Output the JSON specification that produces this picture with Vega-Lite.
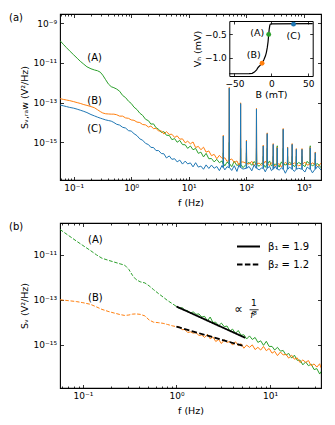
{
"$schema": "https://vega.github.io/schema/vega-lite/v6.json",
"padding": {"left": 8, "top": 12, "right": 10, "bottom": 2},
"bounds": "flush",
"spacing": 43,
"resolve": {"scale": {"strokeDash": "independent", "color": "independent"}, "legend": {"strokeDash": "independent", "color": "independent"}},
"config": {
  "font": "DejaVu Sans",
  "view": {"stroke": "black", "strokeWidth": 1.1},
  "axis": {"domain": false, "grid": false, "tickColor": "black", "tickWidth": 0.8, "labelColor": "black", "titleColor": "black", "labelFont": "DejaVu Sans", "titleFont": "DejaVu Sans", "labelFontSize": 9, "titleFontSize": 9.5, "titleFontWeight": "normal", "labelOverlap": false, "labelFlush": false, "labelBound": false},
  "legend": {"labelFont": "DejaVu Sans", "labelColor": "black"}
},
"datasets": {
  "specA": [
{"f":0.058,"S":1.29e-10,"c":"A"},{"f":0.066,"S":8.51e-11,"c":"A"},{"f":0.075,"S":5.75e-11,"c":"A"},{"f":0.085,"S":3.98e-11,"c":"A"},{"f":0.1,"S":2.51e-11,"c":"A"},{"f":0.115,"S":1.7e-11,"c":"A"},{"f":0.13,"S":1.2e-11,"c":"A"},{"f":0.15,"S":8.51e-12,"c":"A"},{"f":0.17,"S":6.31e-12,"c":"A"},{"f":0.2,"S":5.01e-12,"c":"A"},{"f":0.23,"S":4.37e-12,"c":"A"},{"f":0.26,"S":3.98e-12,"c":"A"},{"f":0.29,"S":3.39e-12,"c":"A"},{"f":0.32,"S":2.4e-12,"c":"A"},{"f":0.36,"S":1.41e-12,"c":"A"},{"f":0.4,"S":8.71e-13,"c":"A"},{"f":0.45,"S":6.31e-13,"c":"A"},{"f":0.5,"S":5.62e-13,"c":"A"},{"f":0.56,"S":4.79e-13,"c":"A"},{"f":0.63,"S":3.72e-13,"c":"A"},{"f":0.71,"S":2.29e-13,"c":"A"},{"f":0.8,"S":1.78e-13,"c":"A"},{"f":0.9,"S":1.17e-13,"c":"A"},{"f":1.0,"S":9.12e-14,"c":"A"},{"f":1.12,"S":5.89e-14,"c":"A"},{"f":1.26,"S":4.47e-14,"c":"A"},{"f":1.41,"S":2.95e-14,"c":"A"},{"f":1.58,"S":2.29e-14,"c":"A"},{"f":1.78,"S":1.45e-14,"c":"A"},{"f":2.0,"S":1.23e-14,"c":"A"},{"f":2.2,"S":8.32e-15,"c":"A"},{"f":2.45,"S":8.51e-15,"c":"A"},{"f":2.7,"S":5.5e-15,"c":"A"},{"f":3.0,"S":4.57e-15,"c":"A"},{"f":3.35,"S":3.16e-15,"c":"A"},{"f":3.7,"S":3.47e-15,"c":"A"},{"f":4.1,"S":2.29e-15,"c":"A"},{"f":4.6,"S":2.24e-15,"c":"A"},{"f":5.1,"S":1.38e-15,"c":"A"},{"f":5.7,"S":1.55e-15,"c":"A"},{"f":6.3,"S":1.02e-15,"c":"A"},{"f":7.0,"S":1.26e-15,"c":"A"},{"f":7.8,"S":7.76e-16,"c":"A"},{"f":8.7,"S":7.59e-16,"c":"A"},{"f":9.6,"S":5.01e-16,"c":"A"},{"f":10.7,"S":6.61e-16,"c":"A"},{"f":11.9,"S":4.27e-16,"c":"A"},{"f":13.2,"S":5.01e-16,"c":"A"},{"f":14.7,"S":2.82e-16,"c":"A"},{"f":16.3,"S":3.24e-16,"c":"A"},{"f":18.1,"S":1.86e-16,"c":"A"},{"f":20.1,"S":2.82e-16,"c":"A"},{"f":22.4,"S":1.51e-16,"c":"A"},{"f":24.9,"S":1.55e-16,"c":"A"},{"f":27.7,"S":1.05e-16,"c":"A"},{"f":30.8,"S":1.41e-16,"c":"A"},{"f":34.2,"S":9.55e-17,"c":"A"},{"f":38,"S":1.17e-16,"c":"A"},{"f":42.5,"S":6.61e-17,"c":"A"},{"f":46.5,"S":1.02e-16,"c":"A"},{"f":56,"S":6.03e-17,"c":"A"},{"f":62,"S":1.12e-16,"c":"A"},{"f":69,"S":6.76e-17,"c":"A"},{"f":75,"S":8.51e-17,"c":"A"},{"f":88,"S":5.37e-17,"c":"A"},{"f":112,"S":1e-16,"c":"A"},{"f":125,"S":7.08e-17,"c":"A"},{"f":138,"S":1.1e-16,"c":"A"},{"f":168,"S":6.31e-17,"c":"A"},{"f":185,"S":8.91e-17,"c":"A"},{"f":215,"S":5.62e-17,"c":"A"},{"f":255,"S":1.17e-16,"c":"A"},{"f":275,"S":6.46e-17,"c":"A"},{"f":320,"S":7.94e-17,"c":"A"},{"f":375,"S":5.75e-17,"c":"A"},{"f":410,"S":1.05e-16,"c":"A"},{"f":480,"S":7.41e-17,"c":"A"},{"f":570,"S":1e-16,"c":"A"},{"f":690,"S":6.03e-17,"c":"A"},{"f":820,"S":9.77e-17,"c":"A"},{"f":1050,"S":6.03e-17,"c":"A"},{"f":1150,"S":1.12e-16,"c":"A"},{"f":1420,"S":6.76e-17,"c":"A"},{"f":1750,"S":8.51e-17,"c":"A"},{"f":2000,"S":5.37e-17,"c":"A"},
{"f":39.6,"S":8.5e-17,"c":"A"},{"f":40,"S":3e-16,"c":"A"},{"f":40.4,"S":8.5e-17,"c":"A"},
{"f":50.3,"S":8.5e-17,"c":"A"},{"f":50.8,"S":1e-15,"c":"A"},{"f":51.3,"S":8.5e-17,"c":"A"},
{"f":79.2,"S":7.9e-17,"c":"A"},{"f":80,"S":5e-16,"c":"A"},{"f":80.8,"S":7.9e-17,"c":"A"},
{"f":100,"S":7.9e-17,"c":"A"},{"f":101,"S":3e-16,"c":"A"},{"f":102,"S":7.9e-17,"c":"A"},
{"f":149.5,"S":7.9e-17,"c":"A"},{"f":151,"S":5e-16,"c":"A"},{"f":152.5,"S":7.9e-17,"c":"A"},
{"f":196,"S":7.9e-17,"c":"A"},{"f":198,"S":2e-16,"c":"A"},{"f":200,"S":7.9e-17,"c":"A"},
{"f":229.7,"S":7.9e-17,"c":"A"},{"f":232,"S":5e-16,"c":"A"},{"f":234.3,"S":7.9e-17,"c":"A"},
{"f":292,"S":7.9e-17,"c":"A"},{"f":295,"S":2e-16,"c":"A"},{"f":298,"S":7.9e-17,"c":"A"},
{"f":343.5,"S":7.9e-17,"c":"A"},{"f":347,"S":6.76e-16,"c":"A"},{"f":350.5,"S":7.9e-17,"c":"A"},
{"f":435.6,"S":7.9e-17,"c":"A"},{"f":440,"S":5e-16,"c":"A"},{"f":444.4,"S":7.9e-17,"c":"A"},
{"f":520,"S":7.9e-17,"c":"A"},{"f":525,"S":2e-16,"c":"A"},{"f":530,"S":7.9e-17,"c":"A"},
{"f":623.7,"S":7.9e-17,"c":"A"},{"f":630,"S":2e-16,"c":"A"},{"f":636.3,"S":7.9e-17,"c":"A"},
{"f":737.5,"S":7.9e-17,"c":"A"},{"f":745,"S":2e-16,"c":"A"},{"f":752.5,"S":7.9e-17,"c":"A"},
{"f":925.7,"S":7.9e-17,"c":"A"},{"f":935,"S":2e-16,"c":"A"},{"f":944.4,"S":7.9e-17,"c":"A"},
{"f":1287,"S":7.9e-17,"c":"A"},{"f":1300,"S":6.76e-16,"c":"A"},{"f":1313,"S":7.9e-17,"c":"A"},
{"f":1574,"S":7.9e-17,"c":"A"},{"f":1590,"S":1.5e-16,"c":"A"},{"f":1606,"S":7.9e-17,"c":"A"},
{"f":0.058,"S":1.58e-13,"c":"B"},{"f":0.066,"S":1.45e-13,"c":"B"},{"f":0.075,"S":1.35e-13,"c":"B"},{"f":0.085,"S":1.26e-13,"c":"B"},{"f":0.1,"S":1.12e-13,"c":"B"},{"f":0.115,"S":1e-13,"c":"B"},{"f":0.13,"S":9.12e-14,"c":"B"},{"f":0.15,"S":7.94e-14,"c":"B"},{"f":0.17,"S":7.24e-14,"c":"B"},{"f":0.2,"S":6.31e-14,"c":"B"},{"f":0.23,"S":5.5e-14,"c":"B"},{"f":0.26,"S":4.37e-14,"c":"B"},{"f":0.29,"S":3.55e-14,"c":"B"},{"f":0.32,"S":3.02e-14,"c":"B"},{"f":0.36,"S":2.75e-14,"c":"B"},{"f":0.4,"S":2.69e-14,"c":"B"},{"f":0.45,"S":2.63e-14,"c":"B"},{"f":0.5,"S":2.63e-14,"c":"B"},{"f":0.56,"S":2.45e-14,"c":"B"},{"f":0.63,"S":2.09e-14,"c":"B"},{"f":0.71,"S":2.09e-14,"c":"B"},{"f":0.8,"S":1.7e-14,"c":"B"},{"f":0.9,"S":1.62e-14,"c":"B"},{"f":1.0,"S":1.35e-14,"c":"B"},{"f":1.12,"S":1.29e-14,"c":"B"},{"f":1.26,"S":1.05e-14,"c":"B"},{"f":1.41,"S":1e-14,"c":"B"},{"f":1.58,"S":7.94e-15,"c":"B"},{"f":1.78,"S":7.59e-15,"c":"B"},{"f":2.0,"S":5.89e-15,"c":"B"},{"f":2.2,"S":6.61e-15,"c":"B"},{"f":2.45,"S":4.9e-15,"c":"B"},{"f":2.7,"S":5.13e-15,"c":"B"},{"f":3.0,"S":3.72e-15,"c":"B"},{"f":3.35,"S":3.8e-15,"c":"B"},{"f":3.7,"S":2.63e-15,"c":"B"},{"f":4.1,"S":3.47e-15,"c":"B"},{"f":4.6,"S":2.51e-15,"c":"B"},{"f":5.1,"S":2.57e-15,"c":"B"},{"f":5.7,"S":1.78e-15,"c":"B"},{"f":6.3,"S":2.14e-15,"c":"B"},{"f":7.0,"S":1.45e-15,"c":"B"},{"f":7.8,"S":1.51e-15,"c":"B"},{"f":8.7,"S":9.55e-16,"c":"B"},{"f":9.6,"S":1.15e-15,"c":"B"},{"f":10.7,"S":8.51e-16,"c":"B"},{"f":11.9,"S":1.05e-15,"c":"B"},{"f":13.2,"S":5.5e-16,"c":"B"},{"f":14.7,"S":6.31e-16,"c":"B"},{"f":16.3,"S":4.27e-16,"c":"B"},{"f":18.1,"S":5.75e-16,"c":"B"},{"f":20.1,"S":3.24e-16,"c":"B"},{"f":22.4,"S":3.72e-16,"c":"B"},{"f":24.9,"S":2.14e-16,"c":"B"},{"f":27.7,"S":2.51e-16,"c":"B"},{"f":30.8,"S":1.51e-16,"c":"B"},{"f":34.2,"S":2.24e-16,"c":"B"},{"f":38,"S":1.58e-16,"c":"B"},{"f":42.5,"S":1.7e-16,"c":"B"},{"f":46.5,"S":1.1e-16,"c":"B"},{"f":56,"S":1.48e-16,"c":"B"},{"f":62,"S":9.77e-17,"c":"B"},{"f":69,"S":1.17e-16,"c":"B"},{"f":75,"S":7.08e-17,"c":"B"},{"f":88,"S":1.05e-16,"c":"B"},{"f":112,"S":8.13e-17,"c":"B"},{"f":125,"S":1.12e-16,"c":"B"},{"f":138,"S":6.61e-17,"c":"B"},{"f":168,"S":9.12e-17,"c":"B"},{"f":185,"S":7.08e-17,"c":"B"},{"f":215,"S":1.15e-16,"c":"B"},{"f":255,"S":6.92e-17,"c":"B"},{"f":275,"S":9.55e-17,"c":"B"},{"f":320,"S":6.17e-17,"c":"B"},{"f":375,"S":8.51e-17,"c":"B"},{"f":410,"S":5.75e-17,"c":"B"},{"f":480,"S":1e-16,"c":"B"},{"f":570,"S":7.76e-17,"c":"B"},{"f":690,"S":9.33e-17,"c":"B"},{"f":820,"S":6.61e-17,"c":"B"},{"f":1050,"S":1.02e-16,"c":"B"},{"f":1150,"S":7.24e-17,"c":"B"},{"f":1420,"S":9.33e-17,"c":"B"},{"f":1750,"S":5.89e-17,"c":"B"},{"f":2000,"S":9.12e-17,"c":"B"},
{"f":39.6,"S":1.5e-16,"c":"B"},{"f":40,"S":2.29e-15,"c":"B"},{"f":40.4,"S":1.5e-16,"c":"B"},
{"f":50.3,"S":1.3e-16,"c":"B"},{"f":50.8,"S":5.89e-13,"c":"B"},{"f":51.3,"S":1.3e-16,"c":"B"},
{"f":79.2,"S":1e-16,"c":"B"},{"f":80,"S":9.77e-14,"c":"B"},{"f":80.8,"S":1e-16,"c":"B"},
{"f":100,"S":8.9e-17,"c":"B"},{"f":101,"S":1.29e-15,"c":"B"},{"f":102,"S":8.9e-17,"c":"B"},
{"f":149.5,"S":8.5e-17,"c":"B"},{"f":151,"S":5.13e-14,"c":"B"},{"f":152.5,"S":8.5e-17,"c":"B"},
{"f":196,"S":8.3e-17,"c":"B"},{"f":198,"S":7.24e-16,"c":"B"},{"f":200,"S":8.3e-17,"c":"B"},
{"f":229.7,"S":8.3e-17,"c":"B"},{"f":232,"S":3.02e-15,"c":"B"},{"f":234.3,"S":8.3e-17,"c":"B"},
{"f":292,"S":7.9e-17,"c":"B"},{"f":295,"S":8.71e-16,"c":"B"},{"f":298,"S":7.9e-17,"c":"B"},
{"f":343.5,"S":7.9e-17,"c":"B"},{"f":347,"S":5.89e-16,"c":"B"},{"f":350.5,"S":7.9e-17,"c":"B"},
{"f":435.6,"S":7.9e-17,"c":"B"},{"f":440,"S":5.01e-15,"c":"B"},{"f":444.4,"S":7.9e-17,"c":"B"},
{"f":520,"S":7.9e-17,"c":"B"},{"f":525,"S":5.89e-16,"c":"B"},{"f":530,"S":7.9e-17,"c":"B"},
{"f":623.7,"S":7.9e-17,"c":"B"},{"f":630,"S":8.71e-16,"c":"B"},{"f":636.3,"S":7.9e-17,"c":"B"},
{"f":737.5,"S":7.9e-17,"c":"B"},{"f":745,"S":4.9e-16,"c":"B"},{"f":752.5,"S":7.9e-17,"c":"B"},
{"f":925.7,"S":7.9e-17,"c":"B"},{"f":935,"S":4.9e-16,"c":"B"},{"f":944.4,"S":7.9e-17,"c":"B"},
{"f":1287,"S":7.9e-17,"c":"B"},{"f":1300,"S":5.89e-16,"c":"B"},{"f":1313,"S":7.9e-17,"c":"B"},
{"f":1574,"S":7.9e-17,"c":"B"},{"f":1590,"S":3.31e-16,"c":"B"},{"f":1606,"S":7.9e-17,"c":"B"},
{"f":0.058,"S":7.59e-14,"c":"C"},{"f":0.066,"S":6.92e-14,"c":"C"},{"f":0.075,"S":6.31e-14,"c":"C"},{"f":0.085,"S":5.75e-14,"c":"C"},{"f":0.1,"S":5.25e-14,"c":"C"},{"f":0.115,"S":4.68e-14,"c":"C"},{"f":0.13,"S":4.17e-14,"c":"C"},{"f":0.15,"S":3.63e-14,"c":"C"},{"f":0.17,"S":3.16e-14,"c":"C"},{"f":0.2,"S":2.51e-14,"c":"C"},{"f":0.23,"S":2.14e-14,"c":"C"},{"f":0.26,"S":1.86e-14,"c":"C"},{"f":0.29,"S":1.66e-14,"c":"C"},{"f":0.32,"S":1.51e-14,"c":"C"},{"f":0.36,"S":1.35e-14,"c":"C"},{"f":0.4,"S":1.26e-14,"c":"C"},{"f":0.45,"S":1.17e-14,"c":"C"},{"f":0.5,"S":1e-14,"c":"C"},{"f":0.56,"S":8.13e-15,"c":"C"},{"f":0.63,"S":7.41e-15,"c":"C"},{"f":0.71,"S":5.75e-15,"c":"C"},{"f":0.8,"S":5.25e-15,"c":"C"},{"f":0.9,"S":3.89e-15,"c":"C"},{"f":1.0,"S":3.72e-15,"c":"C"},{"f":1.12,"S":2.75e-15,"c":"C"},{"f":1.26,"S":2.19e-15,"c":"C"},{"f":1.41,"S":1.51e-15,"c":"C"},{"f":1.58,"S":1.29e-15,"c":"C"},{"f":1.78,"S":8.91e-16,"c":"C"},{"f":2.0,"S":7.76e-16,"c":"C"},{"f":2.2,"S":5.62e-16,"c":"C"},{"f":2.45,"S":5.5e-16,"c":"C"},{"f":2.7,"S":3.89e-16,"c":"C"},{"f":3.0,"S":3.89e-16,"c":"C"},{"f":3.35,"S":2.75e-16,"c":"C"},{"f":3.7,"S":2.69e-16,"c":"C"},{"f":4.1,"S":1.66e-16,"c":"C"},{"f":4.6,"S":2.09e-16,"c":"C"},{"f":5.1,"S":1.41e-16,"c":"C"},{"f":5.7,"S":1.51e-16,"c":"C"},{"f":6.3,"S":1.05e-16,"c":"C"},{"f":7.0,"S":1.29e-16,"c":"C"},{"f":7.8,"S":8.13e-17,"c":"C"},{"f":8.7,"S":1.15e-16,"c":"C"},{"f":9.6,"S":8.32e-17,"c":"C"},{"f":10.7,"S":9.33e-17,"c":"C"},{"f":11.9,"S":5.89e-17,"c":"C"},{"f":13.2,"S":9.55e-17,"c":"C"},{"f":14.7,"S":5.75e-17,"c":"C"},{"f":16.3,"S":6.46e-17,"c":"C"},{"f":18.1,"S":4.47e-17,"c":"C"},{"f":20.1,"S":7.41e-17,"c":"C"},{"f":22.4,"S":4.9e-17,"c":"C"},{"f":24.9,"S":7.24e-17,"c":"C"},{"f":27.7,"S":5.01e-17,"c":"C"},{"f":30.8,"S":6.17e-17,"c":"C"},{"f":34.2,"S":3.8e-17,"c":"C"},{"f":38,"S":6.92e-17,"c":"C"},{"f":42.5,"S":4.17e-17,"c":"C"},{"f":46.5,"S":6.03e-17,"c":"C"},{"f":56,"S":3.89e-17,"c":"C"},{"f":62,"S":6.76e-17,"c":"C"},{"f":69,"S":3.47e-17,"c":"C"},{"f":75,"S":7.41e-17,"c":"C"},{"f":88,"S":4.57e-17,"c":"C"},{"f":112,"S":6.17e-17,"c":"C"},{"f":125,"S":3.72e-17,"c":"C"},{"f":138,"S":7.59e-17,"c":"C"},{"f":168,"S":4.17e-17,"c":"C"},{"f":185,"S":5.13e-17,"c":"C"},{"f":215,"S":3.31e-17,"c":"C"},{"f":255,"S":6.31e-17,"c":"C"},{"f":275,"S":3.8e-17,"c":"C"},{"f":320,"S":6.31e-17,"c":"C"},{"f":375,"S":4.07e-17,"c":"C"},{"f":410,"S":5.25e-17,"c":"C"},{"f":480,"S":2.82e-17,"c":"C"},{"f":570,"S":5.75e-17,"c":"C"},{"f":690,"S":3.47e-17,"c":"C"},{"f":820,"S":5.01e-17,"c":"C"},{"f":1050,"S":3.24e-17,"c":"C"},{"f":1150,"S":5.75e-17,"c":"C"},{"f":1420,"S":2.95e-17,"c":"C"},{"f":1750,"S":6.46e-17,"c":"C"},{"f":2000,"S":4.07e-17,"c":"C"},
{"f":39.6,"S":5.4e-17,"c":"C"},{"f":40,"S":2.09e-15,"c":"C"},{"f":40.4,"S":5.4e-17,"c":"C"},
{"f":50.3,"S":5.4e-17,"c":"C"},{"f":50.8,"S":5.37e-13,"c":"C"},{"f":51.3,"S":5.4e-17,"c":"C"},
{"f":79.2,"S":5.4e-17,"c":"C"},{"f":80,"S":8.91e-14,"c":"C"},{"f":80.8,"S":5.4e-17,"c":"C"},
{"f":100,"S":5e-17,"c":"C"},{"f":101,"S":1.17e-15,"c":"C"},{"f":102,"S":5e-17,"c":"C"},
{"f":149.5,"S":5e-17,"c":"C"},{"f":151,"S":4.68e-14,"c":"C"},{"f":152.5,"S":5e-17,"c":"C"},
{"f":196,"S":5e-17,"c":"C"},{"f":198,"S":6.61e-16,"c":"C"},{"f":200,"S":5e-17,"c":"C"},
{"f":229.7,"S":5e-17,"c":"C"},{"f":232,"S":2.75e-15,"c":"C"},{"f":234.3,"S":5e-17,"c":"C"},
{"f":292,"S":4.5e-17,"c":"C"},{"f":295,"S":7.94e-16,"c":"C"},{"f":298,"S":4.5e-17,"c":"C"},
{"f":343.5,"S":4.5e-17,"c":"C"},{"f":347,"S":5.37e-16,"c":"C"},{"f":350.5,"S":4.5e-17,"c":"C"},
{"f":435.6,"S":4.5e-17,"c":"C"},{"f":440,"S":4.57e-15,"c":"C"},{"f":444.4,"S":4.5e-17,"c":"C"},
{"f":520,"S":4.5e-17,"c":"C"},{"f":525,"S":5.37e-16,"c":"C"},{"f":530,"S":4.5e-17,"c":"C"},
{"f":623.7,"S":4.5e-17,"c":"C"},{"f":630,"S":7.94e-16,"c":"C"},{"f":636.3,"S":4.5e-17,"c":"C"},
{"f":737.5,"S":4.5e-17,"c":"C"},{"f":745,"S":4.47e-16,"c":"C"},{"f":752.5,"S":4.5e-17,"c":"C"},
{"f":925.7,"S":4.5e-17,"c":"C"},{"f":935,"S":4.47e-16,"c":"C"},{"f":944.4,"S":4.5e-17,"c":"C"},
{"f":1287,"S":4.5e-17,"c":"C"},{"f":1300,"S":5.37e-16,"c":"C"},{"f":1313,"S":4.5e-17,"c":"C"},
{"f":1574,"S":4.5e-17,"c":"C"},{"f":1590,"S":3.02e-16,"c":"C"},{"f":1606,"S":4.5e-17,"c":"C"}
  ],
  "labA": [
    {"f":0.231,"S":1.74e-11,"t":"(A)"},
    {"f":0.231,"S":1.23e-13,"t":"(B)"},
    {"f":0.231,"S":4.57e-15,"t":"(C)"}
  ],
  "curve": [
    {"B":-57,"V":-1.345},{"B":-40,"V":-1.345},{"B":-30,"V":-1.343},{"B":-26,"V":-1.335},{"B":-23,"V":-1.31},{"B":-20,"V":-1.26},{"B":-18,"V":-1.21},{"B":-15,"V":-1.16},{"B":-12.6,"V":-1.12},{"B":-10,"V":-1.04},{"B":-8,"V":-0.96},{"B":-6.8,"V":-0.89},{"B":-5.5,"V":-0.78},{"B":-4.5,"V":-0.66},{"B":-3.6,"V":-0.5},{"B":-3,"V":-0.4},{"B":-2.2,"V":-0.31},{"B":-1.5,"V":-0.28},{"B":0,"V":-0.272},{"B":56,"V":-0.27}
  ],
  "dots": [
    {"B":-3.6,"V":-0.5,"c":"A"},{"B":-12.6,"V":-1.12,"c":"B"},{"B":30,"V":-0.28,"c":"C"}
  ],
  "inlab": [
    {"B":-19.3,"V":-0.48,"t":"(A)"},{"B":-23.9,"V":-0.94,"t":"(B)"},{"B":30.1,"V":-0.54,"t":"(C)"}
  ],
  "dashB": [
{"f":0.057,"S":1.35e-10,"c":"A"},{"f":0.07,"S":7.41e-11,"c":"A"},{"f":0.085,"S":4.17e-11,"c":"A"},{"f":0.1,"S":2.63e-11,"c":"A"},{"f":0.12,"S":1.58e-11,"c":"A"},{"f":0.14,"S":1e-11,"c":"A"},{"f":0.16,"S":7.08e-12,"c":"A"},{"f":0.19,"S":5.62e-12,"c":"A"},{"f":0.22,"S":4.68e-12,"c":"A"},{"f":0.25,"S":3.98e-12,"c":"A"},{"f":0.28,"S":3.47e-12,"c":"A"},{"f":0.31,"S":2.24e-12,"c":"A"},{"f":0.34,"S":1.2e-12,"c":"A"},{"f":0.37,"S":7.94e-13,"c":"A"},{"f":0.41,"S":6.31e-13,"c":"A"},{"f":0.46,"S":5.62e-13,"c":"A"},{"f":0.51,"S":4.17e-13,"c":"A"},{"f":0.57,"S":2.82e-13,"c":"A"},{"f":0.64,"S":1.91e-13,"c":"A"},{"f":0.72,"S":1.32e-13,"c":"A"},{"f":0.8,"S":9.33e-14,"c":"A"},{"f":0.9,"S":6.76e-14,"c":"A"},{"f":1.0,"S":5.01e-14,"c":"A"},
{"f":0.057,"S":1e-13,"c":"B"},{"f":0.07,"S":9.12e-14,"c":"B"},{"f":0.085,"S":8.32e-14,"c":"B"},{"f":0.1,"S":7.41e-14,"c":"B"},{"f":0.12,"S":6.31e-14,"c":"B"},{"f":0.14,"S":4.79e-14,"c":"B"},{"f":0.16,"S":3.72e-14,"c":"B"},{"f":0.19,"S":2.95e-14,"c":"B"},{"f":0.22,"S":2.51e-14,"c":"B"},{"f":0.25,"S":2.19e-14,"c":"B"},{"f":0.28,"S":2e-14,"c":"B"},{"f":0.31,"S":2.09e-14,"c":"B"},{"f":0.34,"S":2.29e-14,"c":"B"},{"f":0.37,"S":2.34e-14,"c":"B"},{"f":0.41,"S":2.24e-14,"c":"B"},{"f":0.46,"S":1.91e-14,"c":"B"},{"f":0.51,"S":1.26e-14,"c":"B"},{"f":0.57,"S":1e-14,"c":"B"},{"f":0.64,"S":9.55e-15,"c":"B"},{"f":0.72,"S":8.91e-15,"c":"B"},{"f":0.8,"S":7.94e-15,"c":"B"},{"f":0.9,"S":6.92e-15,"c":"B"},{"f":1.0,"S":6.31e-15,"c":"B"}
  ],
  "noisyB": [
{"f":1.0,"S":5.01e-14,"c":"A"},{"f":1.07,"S":4.07e-14,"c":"A"},{"f":1.15,"S":4.47e-14,"c":"A"},{"f":1.23,"S":3.39e-14,"c":"A"},{"f":1.32,"S":3.31e-14,"c":"A"},{"f":1.41,"S":2.51e-14,"c":"A"},{"f":1.51,"S":2.88e-14,"c":"A"},{"f":1.62,"S":2.24e-14,"c":"A"},{"f":1.74,"S":2.34e-14,"c":"A"},{"f":1.86,"S":1.7e-14,"c":"A"},{"f":2.0,"S":1.82e-14,"c":"A"},{"f":2.14,"S":1.12e-14,"c":"A"},{"f":2.29,"S":1.7e-14,"c":"A"},{"f":2.45,"S":9.77e-15,"c":"A"},{"f":2.63,"S":1e-14,"c":"A"},{"f":2.82,"S":6.92e-15,"c":"A"},{"f":3.02,"S":9.12e-15,"c":"A"},{"f":3.24,"S":6.31e-15,"c":"A"},{"f":3.47,"S":6.76e-15,"c":"A"},{"f":3.72,"S":4.07e-15,"c":"A"},{"f":3.98,"S":4.9e-15,"c":"A"},{"f":4.27,"S":3.16e-15,"c":"A"},{"f":4.57,"S":4.27e-15,"c":"A"},{"f":4.9,"S":2.63e-15,"c":"A"},{"f":5.25,"S":2.75e-15,"c":"A"},{"f":5.62,"S":1.78e-15,"c":"A"},{"f":6.03,"S":2.45e-15,"c":"A"},{"f":6.46,"S":1.7e-15,"c":"A"},{"f":6.92,"S":2.09e-15,"c":"A"},{"f":7.41,"S":1.26e-15,"c":"A"},{"f":7.94,"S":1.48e-15,"c":"A"},{"f":8.51,"S":9.33e-16,"c":"A"},{"f":9.12,"S":1.41e-15,"c":"A"},{"f":9.77,"S":8.32e-16,"c":"A"},{"f":10.5,"S":8.32e-16,"c":"A"},{"f":11.2,"S":5.75e-16,"c":"A"},{"f":12.0,"S":7.59e-16,"c":"A"},{"f":12.9,"S":5.13e-16,"c":"A"},{"f":13.8,"S":5.5e-16,"c":"A"},{"f":14.8,"S":3.39e-16,"c":"A"},{"f":15.8,"S":4.07e-16,"c":"A"},{"f":17.0,"S":2.51e-16,"c":"A"},{"f":18.2,"S":3.39e-16,"c":"A"},{"f":19.5,"S":2e-16,"c":"A"},{"f":20.9,"S":2.04e-16,"c":"A"},{"f":22.4,"S":1.26e-16,"c":"A"},{"f":24.0,"S":1.7e-16,"c":"A"},{"f":25.7,"S":1.15e-16,"c":"A"},{"f":27.5,"S":1.35e-16,"c":"A"},{"f":29.5,"S":7.76e-17,"c":"A"},{"f":31.6,"S":8.51e-17,"c":"A"},{"f":33.9,"S":4.9e-17,"c":"A"},{"f":35,"S":6.31e-17,"c":"A"},
{"f":1.0,"S":6.31e-15,"c":"B"},{"f":1.07,"S":6.17e-15,"c":"B"},{"f":1.15,"S":4.68e-15,"c":"B"},{"f":1.23,"S":4.68e-15,"c":"B"},{"f":1.32,"S":3.47e-15,"c":"B"},{"f":1.41,"S":3.72e-15,"c":"B"},{"f":1.51,"S":3.24e-15,"c":"B"},{"f":1.62,"S":3.39e-15,"c":"B"},{"f":1.74,"S":2.57e-15,"c":"B"},{"f":1.86,"S":2.69e-15,"c":"B"},{"f":2.0,"S":2.09e-15,"c":"B"},{"f":2.14,"S":2.88e-15,"c":"B"},{"f":2.29,"S":1.82e-15,"c":"B"},{"f":2.45,"S":2.19e-15,"c":"B"},{"f":2.63,"S":1.38e-15,"c":"B"},{"f":2.82,"S":1.7e-15,"c":"B"},{"f":3.02,"S":1.12e-15,"c":"B"},{"f":3.24,"S":1.66e-15,"c":"B"},{"f":3.47,"S":1.26e-15,"c":"B"},{"f":3.72,"S":1.38e-15,"c":"B"},{"f":3.98,"S":9.55e-16,"c":"B"},{"f":4.27,"S":1.35e-15,"c":"B"},{"f":4.57,"S":9.12e-16,"c":"B"},{"f":4.9,"S":1.1e-15,"c":"B"},{"f":5.25,"S":6.92e-16,"c":"B"},{"f":5.62,"S":9.55e-16,"c":"B"},{"f":6.03,"S":7.59e-16,"c":"B"},{"f":6.46,"S":9.77e-16,"c":"B"},{"f":6.92,"S":6.03e-16,"c":"B"},{"f":7.41,"S":7.59e-16,"c":"B"},{"f":7.94,"S":5.75e-16,"c":"B"},{"f":8.51,"S":8.32e-16,"c":"B"},{"f":9.12,"S":5.37e-16,"c":"B"},{"f":9.77,"S":6.76e-16,"c":"B"},{"f":10.5,"S":4.17e-16,"c":"B"},{"f":11.2,"S":5.01e-16,"c":"B"},{"f":12.0,"S":3.24e-16,"c":"B"},{"f":12.9,"S":4.68e-16,"c":"B"},{"f":13.8,"S":3.47e-16,"c":"B"},{"f":14.8,"S":3.72e-16,"c":"B"},{"f":15.8,"S":2.51e-16,"c":"B"},{"f":17.0,"S":3.39e-16,"c":"B"},{"f":18.2,"S":2.24e-16,"c":"B"},{"f":19.5,"S":2.57e-16,"c":"B"},{"f":20.9,"S":1.58e-16,"c":"B"},{"f":22.4,"S":2.09e-16,"c":"B"},{"f":24.0,"S":1.62e-16,"c":"B"},{"f":25.7,"S":1.95e-16,"c":"B"},{"f":27.5,"S":1.15e-16,"c":"B"},{"f":29.5,"S":1.38e-16,"c":"B"},{"f":31.6,"S":1e-16,"c":"B"},{"f":33.9,"S":1.41e-16,"c":"B"},{"f":35,"S":9.33e-17,"c":"B"}
  ],
  "fitB": [
    {"f":1.0,"S":5.01e-14,"fit":"β₁ = 1.9"},{"f":5.42,"S":2.02e-15,"fit":"β₁ = 1.9"},
    {"f":1.0,"S":6.31e-15,"fit":"β₂ = 1.2"},{"f":5.25,"S":8.6e-16,"fit":"β₂ = 1.2"}
  ],
  "labB": [
    {"f":0.136,"S":4.7e-11,"t":"(A)"},{"f":0.136,"S":1.15e-13,"t":"(B)"}
  ],
  "propto": [{"f":4.6,"S":3.85e-14,"t":"∝"}],
  "num": [{"f":6.73,"S":7.13e-14,"t":"1"}],
  "den": [{"f":6.66,"S":2.0e-14,"t":"fᵝ"}],
  "bar": [{"f":6.04,"f2":7.54,"S":3.59e-14}]
},
"vconcat": [
  {
    "width": 261, "height": 166,
    "title": {"text": "(a)", "anchor": "start", "frame": "group", "dx": -51, "offset": -14, "baseline": "middle", "fontSize": 10, "fontWeight": "normal", "font": "DejaVu Sans", "color": "black"},
    "layer": [
      {
        "layer": [
          {
            "data": {"name": "specA"},
            "transform": [{"filter": "datum.c == 'A'"}],
            "mark": {"type": "line", "strokeWidth": 1, "clip": true},
            "encoding": {
              "x": {"field": "f", "type": "quantitative",
                "scale": {"type": "log", "domain": [0.0578, 2000], "nice": false},
                "axis": {"orient": "bottom", "values": [0.06,0.07,0.08,0.09,0.1,0.2,0.3,0.4,0.5,0.6,0.7,0.8,0.9,1,2,3,4,5,6,7,8,9,10,20,30,40,50,60,70,80,90,100,200,300,400,500,600,700,800,900,1000],
                  "tickSize": {"condition": {"test": "abs(log(datum.value)/LN10 - round(log(datum.value)/LN10)) < 0.001", "value": -3.5}, "value": -2},
                  "labelPadding": 7,
                  "labelExpr": "abs(log(datum.value)/LN10 - round(log(datum.value)/LN10)) > 0.001 ? '' : round(log(datum.value)/LN10) == -1 ? '10⁻¹' : round(log(datum.value)/LN10) == 0 ? '10⁰' : round(log(datum.value)/LN10) == 1 ? '10¹' : round(log(datum.value)/LN10) == 2 ? '10²' : '10³'",
                  "title": "f (Hz)", "titlePadding": 3}},
              "y": {"field": "S", "type": "quantitative",
                "scale": {"type": "log", "domain": [1.29e-17, 2.84e-9], "nice": false},
                "axis": {"orient": "left", "values": [1e-9, 1e-11, 1e-13, 1e-15], "tickSize": -3.5, "labelPadding": 7,
                  "labelExpr": "round(log(datum.value)/LN10) == -9 ? '10⁻⁹' : round(log(datum.value)/LN10) == -11 ? '10⁻¹¹' : round(log(datum.value)/LN10) == -13 ? '10⁻¹³' : '10⁻¹⁵'",
                  "title": "Sᵥ,ᵣₐw (V²/Hz)", "titlePadding": 4}},
              "color": {"field": "c", "type": "nominal", "scale": {"domain": ["A","B","C"], "range": ["#2ca02c","#ff7f0e","#1f77b4"]}, "legend": null}
            }
          },
          {
            "data": {"name": "specA"},
            "transform": [{"filter": "datum.c == 'B'"}],
            "mark": {"type": "line", "strokeWidth": 1, "clip": true},
            "encoding": {
              "x": {"field": "f", "type": "quantitative", "scale": {"type": "log", "domain": [0.0578, 2000], "nice": false}},
              "y": {"field": "S", "type": "quantitative", "scale": {"type": "log", "domain": [1.29e-17, 2.84e-9], "nice": false}},
              "color": {"field": "c", "type": "nominal", "scale": {"domain": ["A","B","C"], "range": ["#2ca02c","#ff7f0e","#1f77b4"]}, "legend": null}
            }
          },
          {
            "data": {"name": "specA"},
            "transform": [{"filter": "datum.c == 'C'"}],
            "mark": {"type": "line", "strokeWidth": 1, "clip": true},
            "encoding": {
              "x": {"field": "f", "type": "quantitative", "scale": {"type": "log", "domain": [0.0578, 2000], "nice": false}},
              "y": {"field": "S", "type": "quantitative", "scale": {"type": "log", "domain": [1.29e-17, 2.84e-9], "nice": false}},
              "color": {"field": "c", "type": "nominal", "scale": {"domain": ["A","B","C"], "range": ["#2ca02c","#ff7f0e","#1f77b4"]}, "legend": null}
            }
          },
          {
            "data": {"name": "labA"},
            "mark": {"type": "text", "fontSize": 10, "font": "DejaVu Sans", "color": "black", "align": "center", "baseline": "middle"},
            "encoding": {
              "x": {"field": "f", "type": "quantitative", "scale": {"type": "log", "domain": [0.0578, 2000], "nice": false}},
              "y": {"field": "S", "type": "quantitative", "scale": {"type": "log", "domain": [1.29e-17, 2.84e-9], "nice": false}},
              "text": {"field": "t"}
            }
          }
        ]
      },
      {
        "data": {"name": "labA"},
        "mark": {"type": "point", "opacity": 0},
        "encoding": {
          "x": {"field": "f", "type": "quantitative", "scale": {"type": "log", "domain": [0.0578, 2000], "nice": false},
            "axis": {"orient": "top", "values": [0.06,0.07,0.08,0.09,0.1,0.2,0.3,0.4,0.5,0.6,0.7,0.8,0.9,1,2,3,4,5,6,7,8,9,10,20,30,40,50,60,70,80,90,100,200,300,400,500,600,700,800,900,1000],
              "tickSize": {"condition": {"test": "abs(log(datum.value)/LN10 - round(log(datum.value)/LN10)) < 0.001", "value": -3.5}, "value": -2},
              "labels": false, "title": null}},
          "y": {"field": "S", "type": "quantitative", "scale": {"type": "log", "domain": [1.29e-17, 2.84e-9], "nice": false},
            "axis": {"orient": "right", "values": [1e-9, 1e-11, 1e-13, 1e-15], "tickSize": -3.5, "labels": false, "title": null}}
        }
      },
      {
        "layer": [
          {
            "data": {"name": "curve"},
            "mark": {"type": "line", "color": "black", "strokeWidth": 1.2},
            "encoding": {
              "x": {"field": "B", "type": "quantitative", "scale": {"domain": [-57, 56], "range": [169.3, 252.7], "nice": false, "zero": false},
                "axis": {"orient": "bottom", "offset": -104, "values": [-50, 0, 50], "format": "d", "tickSize": -3, "labelPadding": 6, "domain": true, "domainColor": "black", "domainWidth": 1, "title": "B (mT)", "titlePadding": 1}},
              "y": {"field": "V", "type": "quantitative", "scale": {"domain": [-1.393, -0.212], "range": [62, 7], "nice": false, "zero": false},
                "axis": {"orient": "left", "offset": -169.3, "values": [-0.5, -1.0], "format": ".1f", "tickSize": -3, "labelPadding": 6, "domain": true, "domainColor": "black", "domainWidth": 1, "title": "Vₕ (mV)", "titlePadding": 2}}
            }
          },
          {
            "data": {"name": "dots"},
            "mark": {"type": "point", "filled": true, "opacity": 1, "size": 24},
            "encoding": {
              "x": {"field": "B", "type": "quantitative", "scale": {"domain": [-57, 56], "range": [169.3, 252.7], "nice": false, "zero": false}},
              "y": {"field": "V", "type": "quantitative", "scale": {"domain": [-1.393, -0.212], "range": [62, 7], "nice": false, "zero": false}},
              "color": {"field": "c", "type": "nominal", "scale": {"domain": ["A","B","C"], "range": ["#2ca02c","#ff7f0e","#1f77b4"]}, "legend": null}
            }
          },
          {
            "data": {"name": "inlab"},
            "mark": {"type": "text", "fontSize": 9.5, "font": "DejaVu Sans", "color": "black", "align": "center", "baseline": "middle"},
            "encoding": {
              "x": {"field": "B", "type": "quantitative", "scale": {"domain": [-57, 56], "range": [169.3, 252.7], "nice": false, "zero": false}},
              "y": {"field": "V", "type": "quantitative", "scale": {"domain": [-1.393, -0.212], "range": [62, 7], "nice": false, "zero": false}},
              "text": {"field": "t"}
            }
          }
        ]
      },
      {
        "data": {"name": "curve"},
        "mark": {"type": "point", "opacity": 0},
        "encoding": {
          "x": {"field": "B", "type": "quantitative", "scale": {"domain": [-57, 56], "range": [169.3, 252.7], "nice": false, "zero": false},
            "axis": {"orient": "top", "offset": -7, "values": [-50, 0, 50], "tickSize": -3, "labels": false, "domain": true, "domainColor": "black", "domainWidth": 1, "title": null}},
          "y": {"field": "V", "type": "quantitative", "scale": {"domain": [-1.393, -0.212], "range": [62, 7], "nice": false, "zero": false},
            "axis": {"orient": "right", "offset": -8.3, "values": [-0.5, -1.0], "tickSize": -3, "labels": false, "domain": true, "domainColor": "black", "domainWidth": 1, "title": null}}
        }
      }
    ],
    "resolve": {"scale": {"x": "independent", "y": "independent"}}
  },
  {
    "width": 261, "height": 165,
    "title": {"text": "(b)", "anchor": "start", "frame": "group", "dx": -51, "offset": -14, "baseline": "middle", "fontSize": 10, "fontWeight": "normal", "font": "DejaVu Sans", "color": "black"},
    "layer": [
      {
        "layer": [
          {
            "data": {"name": "dashB"},
            "mark": {"type": "line", "strokeWidth": 1, "strokeDash": [3.7, 1.6], "clip": true},
            "encoding": {
              "x": {"field": "f", "type": "quantitative", "scale": {"type": "log", "domain": [0.057, 35], "nice": false},
                "axis": {"orient": "bottom", "values": [0.06,0.07,0.08,0.09,0.1,0.2,0.3,0.4,0.5,0.6,0.7,0.8,0.9,1,2,3,4,5,6,7,8,9,10,20,30],
                  "tickSize": {"condition": {"test": "abs(log(datum.value)/LN10 - round(log(datum.value)/LN10)) < 0.001", "value": -3.5}, "value": -2},
                  "labelPadding": 7,
                  "labelExpr": "abs(log(datum.value)/LN10 - round(log(datum.value)/LN10)) > 0.001 ? '' : round(log(datum.value)/LN10) == -1 ? '10⁻¹' : round(log(datum.value)/LN10) == 0 ? '10⁰' : '10¹'",
                  "title": "f (Hz)", "titlePadding": 3}},
              "y": {"field": "S", "type": "quantitative", "scale": {"type": "log", "domain": [1.17e-17, 2.63e-10], "nice": false},
                "axis": {"orient": "left", "values": [1e-11, 1e-13, 1e-15], "tickSize": -3.5, "labelPadding": 7,
                  "labelExpr": "round(log(datum.value)/LN10) == -11 ? '10⁻¹¹' : round(log(datum.value)/LN10) == -13 ? '10⁻¹³' : '10⁻¹⁵'",
                  "title": "Sᵥ (V²/Hz)", "titlePadding": 4}},
              "color": {"field": "c", "type": "nominal", "scale": {"domain": ["A","B","C"], "range": ["#2ca02c","#ff7f0e","#1f77b4"]}, "legend": null}
            }
          },
          {
            "data": {"name": "noisyB"},
            "transform": [{"filter": "datum.c == 'A'"}],
            "mark": {"type": "line", "strokeWidth": 1, "clip": true},
            "encoding": {
              "x": {"field": "f", "type": "quantitative", "scale": {"type": "log", "domain": [0.057, 35], "nice": false}},
              "y": {"field": "S", "type": "quantitative", "scale": {"type": "log", "domain": [1.17e-17, 2.63e-10], "nice": false}},
              "color": {"field": "c", "type": "nominal", "scale": {"domain": ["A","B","C"], "range": ["#2ca02c","#ff7f0e","#1f77b4"]}, "legend": null}
            }
          },
          {
            "data": {"name": "noisyB"},
            "transform": [{"filter": "datum.c == 'B'"}],
            "mark": {"type": "line", "strokeWidth": 1, "clip": true},
            "encoding": {
              "x": {"field": "f", "type": "quantitative", "scale": {"type": "log", "domain": [0.057, 35], "nice": false}},
              "y": {"field": "S", "type": "quantitative", "scale": {"type": "log", "domain": [1.17e-17, 2.63e-10], "nice": false}},
              "color": {"field": "c", "type": "nominal", "scale": {"domain": ["A","B","C"], "range": ["#2ca02c","#ff7f0e","#1f77b4"]}, "legend": null}
            }
          },
          {
            "data": {"name": "fitB"},
            "mark": {"type": "line", "strokeWidth": 1.8, "color": "black"},
            "encoding": {
              "x": {"field": "f", "type": "quantitative", "scale": {"type": "log", "domain": [0.057, 35], "nice": false}},
              "y": {"field": "S", "type": "quantitative", "scale": {"type": "log", "domain": [1.17e-17, 2.63e-10], "nice": false}},
              "strokeDash": {"field": "fit", "type": "nominal", "scale": {"domain": ["β₁ = 1.9", "β₂ = 1.2"], "range": [[1, 0], [5.5, 2.4]]},
                "legend": {"orient": "top-right", "offset": 11, "padding": 0, "title": null, "symbolType": "stroke", "symbolSize": 529, "symbolStrokeWidth": 1.8, "symbolStrokeColor": "black", "labelFontSize": 10, "labelOffset": 7, "rowPadding": -4}}
            }
          },
          {
            "data": {"name": "labB"},
            "mark": {"type": "text", "fontSize": 10, "font": "DejaVu Sans", "color": "black", "align": "center", "baseline": "middle"},
            "encoding": {
              "x": {"field": "f", "type": "quantitative", "scale": {"type": "log", "domain": [0.057, 35], "nice": false}},
              "y": {"field": "S", "type": "quantitative", "scale": {"type": "log", "domain": [1.17e-17, 2.63e-10], "nice": false}},
              "text": {"field": "t"}
            }
          },
          {
            "data": {"name": "propto"},
            "mark": {"type": "text", "fontSize": 12, "font": "DejaVu Sans", "color": "black", "align": "center", "baseline": "middle"},
            "encoding": {
              "x": {"field": "f", "type": "quantitative", "scale": {"type": "log", "domain": [0.057, 35], "nice": false}},
              "y": {"field": "S", "type": "quantitative", "scale": {"type": "log", "domain": [1.17e-17, 2.63e-10], "nice": false}},
              "text": {"field": "t"}
            }
          },
          {
            "data": {"name": "num"},
            "mark": {"type": "text", "fontSize": 9, "font": "DejaVu Sans", "color": "black", "align": "center", "baseline": "middle"},
            "encoding": {
              "x": {"field": "f", "type": "quantitative", "scale": {"type": "log", "domain": [0.057, 35], "nice": false}},
              "y": {"field": "S", "type": "quantitative", "scale": {"type": "log", "domain": [1.17e-17, 2.63e-10], "nice": false}},
              "text": {"field": "t"}
            }
          },
          {
            "data": {"name": "den"},
            "mark": {"type": "text", "fontSize": 9, "fontStyle": "italic", "font": "DejaVu Sans", "color": "black", "align": "center", "baseline": "middle"},
            "encoding": {
              "x": {"field": "f", "type": "quantitative", "scale": {"type": "log", "domain": [0.057, 35], "nice": false}},
              "y": {"field": "S", "type": "quantitative", "scale": {"type": "log", "domain": [1.17e-17, 2.63e-10], "nice": false}},
              "text": {"field": "t"}
            }
          },
          {
            "data": {"name": "bar"},
            "mark": {"type": "rule", "color": "black", "strokeWidth": 0.8},
            "encoding": {
              "x": {"field": "f", "type": "quantitative", "scale": {"type": "log", "domain": [0.057, 35], "nice": false}},
              "x2": {"field": "f2"},
              "y": {"field": "S", "type": "quantitative", "scale": {"type": "log", "domain": [1.17e-17, 2.63e-10], "nice": false}}
            }
          }
        ]
      },
      {
        "data": {"name": "labB"},
        "mark": {"type": "point", "opacity": 0},
        "encoding": {
          "x": {"field": "f", "type": "quantitative", "scale": {"type": "log", "domain": [0.057, 35], "nice": false},
            "axis": {"orient": "top", "values": [0.06,0.07,0.08,0.09,0.1,0.2,0.3,0.4,0.5,0.6,0.7,0.8,0.9,1,2,3,4,5,6,7,8,9,10,20,30],
              "tickSize": {"condition": {"test": "abs(log(datum.value)/LN10 - round(log(datum.value)/LN10)) < 0.001", "value": -3.5}, "value": -2},
              "labels": false, "title": null}},
          "y": {"field": "S", "type": "quantitative", "scale": {"type": "log", "domain": [1.17e-17, 2.63e-10], "nice": false},
            "axis": {"orient": "right", "values": [1e-11, 1e-13, 1e-15], "tickSize": -3.5, "labels": false, "title": null}}
        }
      }
    ],
    "resolve": {"scale": {"x": "independent", "y": "independent"}}
  }
]
}
